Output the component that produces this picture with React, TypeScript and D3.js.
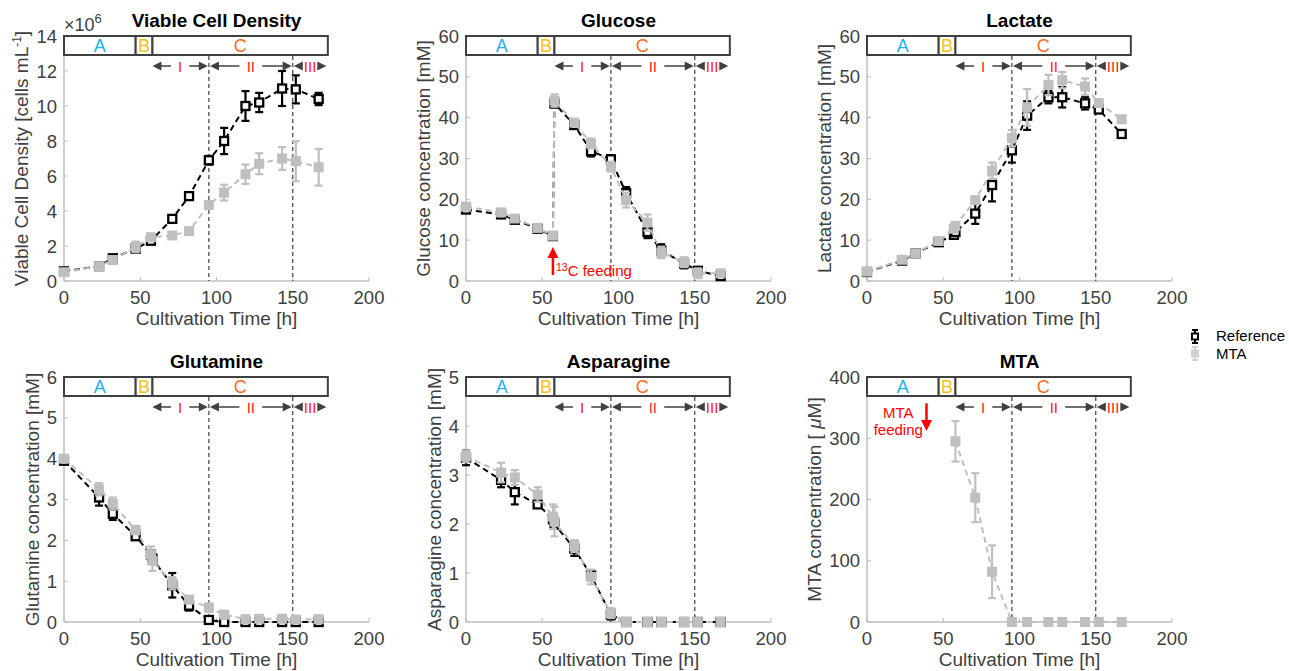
import React from 'react';
import * as d3 from 'd3';

// sampling times [h]
const timesVcd = [0, 23, 32, 47, 57, 71, 82, 95, 105, 119, 128, 143, 152, 167];
const timesMet = [0, 23, 32, 47, 57, 58, 71, 82, 95, 105, 119, 128, 143, 152, 167];
const timesMta = [58, 71, 82, 95, 105, 119, 128, 143, 152, 167];

// viable cell density (x10^6 cells/mL)
const vcdRef = [0.55, 0.85, 1.3, 1.85, 2.3, 3.55, 4.85, 6.9, 8.0, 10.0, 10.2, 11.0, 10.95, 10.4];
const vcdRefErr = [0.1, 0.05, 0.15, 0.1, 0.1, 0.1, 0.15, 0.25, 0.75, 0.85, 0.55, 1.0, 0.8, 0.35];
const vcdMta = [0.5, 0.85, 1.2, 1.95, 2.5, 2.6, 2.85, 4.35, 5.05, 6.1, 6.7, 7.0, 6.85, 6.5];
const vcdMtaErr = [0.1, 0.05, 0.1, 0.3, 0.15, 0.1, 0.15, 0.2, 0.45, 0.55, 0.6, 0.65, 1.15, 1.05];

// glucose [mM]
const glcRef = [17.5, 16.3, 15.0, 12.8, 11.0, 43.5, 38.2, 31.8, 29.8, 21.5, 12.0, 7.5, 4.3, 2.5, 1.2];
const glcRefErr = [0.5, 0.4, 0.3, 0.3, 0.3, 1.0, 0.5, 1.3, 1.0, 1.5, 1.5, 1.5, 1.2, 0.8, 0.5];
const glcMta = [18.2, 16.8, 15.3, 13.0, 11.1, 44.2, 38.8, 33.7, 28.0, 19.8, 14.3, 7.0, 4.6, 1.9, 1.9];
const glcMtaErr = [0.7, 0.5, 0.4, 0.4, 0.5, 1.5, 0.6, 1.2, 1.2, 1.8, 2.0, 1.4, 1.2, 1.2, 0.6];

// lactate [mM]
const lacRef = [2.2, 5.0, 6.8, 9.5, 11.3, 12.0, 16.5, 23.5, 32.0, 40.5, 45.0, 45.0, 43.5, 42.0, 36.0];
const lacRefErr = [0.3, 0.3, 0.3, 0.4, 0.5, 0.5, 2.5, 4.0, 3.0, 3.5, 1.5, 2.5, 1.5, 0.5, 0.5];
const lacMta = [2.3, 5.2, 6.8, 9.8, 12.8, 13.5, 19.8, 27.0, 35.0, 42.5, 48.0, 49.2, 47.6, 43.6, 39.6];
const lacMtaErr = [0.3, 0.3, 0.3, 0.4, 0.6, 0.8, 0.8, 2.0, 2.0, 4.5, 2.5, 2.0, 2.0, 0.6, 0.6];

// glutamine [mM]
const glnRef = [3.95, 3.05, 2.65, 2.1, 1.65, 1.55, 0.9, 0.4, 0.05, 0, 0, 0, 0, 0, 0];
const glnRefErr = [0.05, 0.2, 0.15, 0.05, 0.1, 0.1, 0.3, 0.12, 0.03, 0, 0, 0, 0, 0, 0];
const glnMta = [4.0, 3.25, 2.9, 2.25, 1.65, 1.5, 0.95, 0.55, 0.35, 0.18, 0.07, 0.08, 0.08, 0.06, 0.07];
const glnMtaErr = [0.08, 0.15, 0.15, 0.1, 0.2, 0.25, 0.15, 0.08, 0.1, 0.05, 0.03, 0.03, 0.03, 0.03, 0.03];

// asparagine [mM]
const asnRef = [3.35, 2.9, 2.65, 2.4, 2.1, 2.0, 1.5, 0.95, 0.15, 0, 0, 0, 0, 0, 0];
const asnRefErr = [0.15, 0.15, 0.25, 0.05, 0.1, 0.1, 0.15, 0.1, 0.1, 0, 0, 0, 0, 0, 0];
const asnMta = [3.38, 3.05, 2.95, 2.6, 2.15, 2.05, 1.55, 0.92, 0.18, 0, 0, 0, 0, 0, 0];
const asnMtaErr = [0.12, 0.2, 0.15, 0.15, 0.25, 0.3, 0.12, 0.15, 0.1, 0, 0, 0, 0, 0, 0];

// MTA [uM]
const mtaMta = [295, 203, 82, 0, 0, 0, 0, 0, 0, 0];
const mtaMtaErr = [33, 40, 43, 0, 0, 0, 0, 0, 0, 0];

const xTicks = [0, 50, 100, 150, 200];

const phases = [
  { label: 'A', from: 0, to: 47, color: '#1eb1f0' },
  { label: 'B', from: 47, to: 58, color: '#fdbf16' },
  { label: 'C', from: 58, to: 173, color: '#fb6d1c' },
];
const subPhases = [
  { label: 'I', from: 58, to: 94.3 },
  { label: 'II', from: 95.7, to: 149.3 },
  { label: 'III', from: 150.7, to: 172 },
];
const phaseDividers = [95, 150];

const FONT = 'Liberation Sans, Arial, Helvetica, sans-serif';
const GRAY = '#bfbfbf';
const DARK = '#404040';
const PW = 305;
const PH = 245;

const panels = [
  {
    title: 'Viable Cell Density', left: 64, top: 36, yMax: 14, yStep: 2, exp: true,
    yLabel: <>Viable Cell Density [cells mL<tspan dy={-7} fontSize={12}>-1</tspan><tspan dy={7}>]</tspan></>,
    times: timesVcd, ref: vcdRef, refErr: vcdRefErr, mta: vcdMta, mtaErr: vcdMtaErr,
  },
  {
    title: 'Glucose', left: 466, top: 36, yMax: 60, yStep: 10, feed: 'glc',
    yLabel: <>Glucose concentration [mM]</>,
    times: timesMet, ref: glcRef, refErr: glcRefErr, mta: glcMta, mtaErr: glcMtaErr,
  },
  {
    title: 'Lactate', left: 867, top: 36, yMax: 60, yStep: 10,
    yLabel: <>Lactate concentration [mM]</>,
    times: timesMet, ref: lacRef, refErr: lacRefErr, mta: lacMta, mtaErr: lacMtaErr,
  },
  {
    title: 'Glutamine', left: 64, top: 377, yMax: 6, yStep: 1,
    yLabel: <>Glutamine concentration [mM]</>,
    times: timesMet, ref: glnRef, refErr: glnRefErr, mta: glnMta, mtaErr: glnMtaErr,
  },
  {
    title: 'Asparagine', left: 466, top: 377, yMax: 5, yStep: 1,
    yLabel: <>Asparagine concentration [mM]</>,
    times: timesMet, ref: asnRef, refErr: asnRefErr, mta: asnMta, mtaErr: asnMtaErr,
  },
  {
    title: 'MTA', left: 867, top: 377, yMax: 400, yStep: 100, feed: 'mta',
    yLabel: <>MTA concentration [ <tspan fontStyle="italic">μ</tspan>M]</>,
    times: timesMta, ref: null, refErr: null, mta: mtaMta, mtaErr: mtaMtaErr,
  },
];

type Series = { times: number[]; vals: number[]; errs: number[]; kind: 'ref' | 'mta' };

function SeriesMarks({ s, x, y }: { s: Series; x: d3.ScaleLinear<number, number>; y: d3.ScaleLinear<number, number> }) {
  const color = s.kind === 'ref' ? '#000' : GRAY;
  const pts = s.times.map((t, i) => ({ t, v: s.vals[i], e: s.errs[i] }));
  const line = d3.line<{ t: number; v: number }>().x(d => x(d.t)).y(d => y(d.v));
  return (
    <g>
      <path d={line(pts) || ''} fill="none" stroke={color} strokeWidth={2} strokeDasharray="6 4" />
      {pts.map((p, i) => (
        <g key={i} stroke={color} strokeWidth={2.2}>
          <line x1={x(p.t)} x2={x(p.t)} y1={y(p.v - p.e)} y2={y(p.v + p.e)} />
          <line x1={x(p.t) - 4} x2={x(p.t) + 4} y1={y(p.v - p.e)} y2={y(p.v - p.e)} />
          <line x1={x(p.t) - 4} x2={x(p.t) + 4} y1={y(p.v + p.e)} y2={y(p.v + p.e)} />
        </g>
      ))}
      {pts.map((p, i) =>
        s.kind === 'ref' ? (
          <rect key={'m' + i} x={x(p.t) - 4} y={y(p.v) - 4} width={8} height={8} fill="#fff" stroke="#000" strokeWidth={2.3} />
        ) : (
          <rect key={'m' + i} x={x(p.t) - 5} y={y(p.v) - 5} width={10} height={10} fill={GRAY} />
        )
      )}
    </g>
  );
}

function Panel({ p }: { p: typeof panels[number] }) {
  const x = d3.scaleLinear().domain([0, 200]).range([p.left, p.left + PW]);
  const y = d3.scaleLinear().domain([0, p.yMax]).range([p.top + PH, p.top]);
  const yTicks = d3.range(0, p.yMax + p.yStep / 2, p.yStep);
  const digits = String(p.yMax).length;
  const base = p.top + PH;
  const boxTop = p.top;
  const boxH = 19;
  const arrowY = p.top + 30;

  return (
    <g fontFamily={FONT}>
      <text x={p.left + PW / 2} y={p.top - 9} textAnchor="middle" fontWeight="bold" fontSize={19} fill="#000">{p.title}</text>
      {p.exp && (
        <text x={p.left} y={p.top - 5} fontSize={18} fill={DARK}>×10<tspan dy={-8} fontSize={13}>6</tspan></text>
      )}
      {/* axes */}
      <line x1={p.left} x2={p.left + PW} y1={base} y2={base} stroke={GRAY} strokeWidth={1.5} />
      <line x1={p.left} x2={p.left} y1={p.top} y2={base} stroke={GRAY} strokeWidth={1.5} />
      {xTicks.map(t => (
        <g key={'x' + t}>
          <line x1={x(t)} x2={x(t)} y1={base} y2={base - 4} stroke={GRAY} strokeWidth={1} />
          <text x={x(t)} y={base + 23} textAnchor="middle" fontSize={18.5} fill={DARK}>{t}</text>
        </g>
      ))}
      {yTicks.map(t => (
        <g key={'y' + t}>
          <line x1={p.left} x2={p.left + 4} y1={y(t)} y2={y(t)} stroke={GRAY} strokeWidth={1} />
          <text x={p.left - 7} y={y(t) + 6.5} textAnchor="end" fontSize={18.5} fill={DARK}>{t}</text>
        </g>
      ))}
      <text x={p.left + PW / 2} y={base + 44} textAnchor="middle" fontSize={19} fill={DARK}>Cultivation Time [h]</text>
      <text transform={`translate(${p.left - 15 - 10.5 * digits},${p.top + PH / 2}) rotate(-90)`} textAnchor="middle" fontSize={19} fill={DARK}>{p.yLabel}</text>

      {/* phase box */}
      {phases.map(ph => (
        <g key={ph.label}>
          <rect x={x(ph.from)} y={boxTop} width={x(ph.to) - x(ph.from)} height={boxH} fill="#fff" stroke={DARK} strokeWidth={2} />
          <text x={(x(ph.from) + x(ph.to)) / 2} y={boxTop + 16} textAnchor="middle" fontSize={18} fill={ph.color}>{ph.label}</text>
        </g>
      ))}
      {phaseDividers.map(t => (
        <line key={'d' + t} x1={x(t)} x2={x(t)} y1={boxTop + boxH + 1} y2={base} stroke={DARK} strokeWidth={1.2} strokeDasharray="4 3" />
      ))}
      {subPhases.map(sp => {
        const x0 = x(sp.from);
        const x1 = x(sp.to);
        const cx = (x0 + x1) / 2;
        const half = sp.label.length * 2.2 + 7;
        return (
          <g key={sp.label}>
            {cx - half > x0 + 8 && <line x1={x0 + 6} x2={cx - half} y1={arrowY} y2={arrowY} stroke={DARK} strokeWidth={1.5} />}
            {x1 - 8 > cx + half && <line x1={cx + half} x2={x1 - 6} y1={arrowY} y2={arrowY} stroke={DARK} strokeWidth={1.5} />}
            <path d={`M${x0},${arrowY} l9,-4.5 l0,9 z`} fill={DARK} />
            <path d={`M${x1},${arrowY} l-9,-4.5 l0,9 z`} fill={DARK} />
            <text x={cx} y={arrowY + 5.5} textAnchor="middle" fontSize={15} fill="#ff1a1a">{sp.label}</text>
          </g>
        );
      })}

      {/* data */}
      {p.ref && p.refErr && <SeriesMarks s={{ times: p.times, vals: p.ref, errs: p.refErr, kind: 'ref' }} x={x} y={y} />}
      <SeriesMarks s={{ times: p.times, vals: p.mta, errs: p.mtaErr, kind: 'mta' }} x={x} y={y} />

      {p.feed === 'glc' && (
        <g>
          <line x1={x(57)} x2={x(57)} y1={y(1.5)} y2={y(6)} stroke="#ff0000" strokeWidth={2.5} />
          <path d={`M${x(57)},${y(8.3)} l-5.5,11 l11,0 z`} fill="#ff0000" />
          <text x={x(59)} y={y(1.3)} fontSize={15} fill="#ff0000">
            <tspan dy={-5} fontSize={10.5}>13</tspan><tspan dy={5}>C feeding</tspan>
          </text>
        </g>
      )}
      {p.feed === 'mta' && (
        <g>
          <line x1={x(39)} x2={x(39)} y1={y(357)} y2={y(327)} stroke="#ff0000" strokeWidth={2.5} />
          <path d={`M${x(39)},${y(312)} l-5.5,-11 l11,0 z`} fill="#ff0000" />
          <text x={x(20.5)} y={y(333)} textAnchor="middle" fontSize={15} fill="#ff0000">MTA</text>
          <text x={x(20.5)} y={y(305)} textAnchor="middle" fontSize={15} fill="#ff0000">feeding</text>
        </g>
      )}
    </g>
  );
}

function Legend() {
  const lx = 1195;
  return (
    <g fontFamily={FONT} fontSize={15} fill="#000">
      <g stroke="#000" strokeWidth={2}>
        <line x1={lx} x2={lx} y1={330} y2={343} />
        <line x1={lx - 3} x2={lx + 3} y1={330} y2={330} />
        <line x1={lx - 3} x2={lx + 3} y1={343} y2={343} />
      </g>
      <rect x={lx - 3} y={333.5} width={6} height={6} fill="#fff" stroke="#000" strokeWidth={2} />
      <text x={1216} y={341}>Reference</text>
      <g stroke="#d0d0d0" strokeWidth={2}>
        <line x1={lx} x2={lx} y1={347} y2={360} />
        <line x1={lx - 3} x2={lx + 3} y1={347} y2={347} />
        <line x1={lx - 3} x2={lx + 3} y1={360} y2={360} />
      </g>
      <rect x={lx - 4} y={349.5} width={8} height={8} fill="#d0d0d0" />
      <text x={1216} y={359}>MTA</text>
    </g>
  );
}

export default function App() {
  return (
    <svg width={1289} height={671} style={{ position: 'absolute', left: 0, top: 0, background: '#fff' }}>
      <rect width={1289} height={671} fill="#fff" />
      {panels.map(p => <Panel key={p.title} p={p} />)}
      <Legend />
    </svg>
  );
}
